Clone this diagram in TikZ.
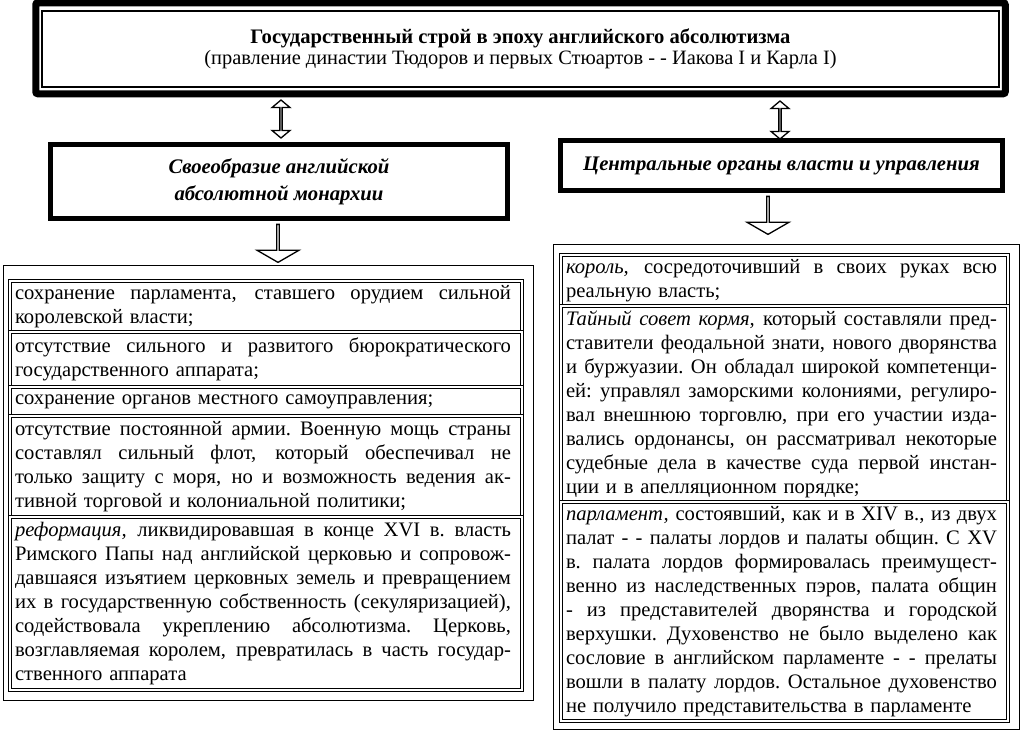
\documentclass[tikz,border=0pt]{standalone}
\usepackage{fontspec}
\setmainfont{Liberation Serif}
\usetikzlibrary{positioning,shapes.arrows}
\newlength\colw
\newcommand\jline[1]{\noindent\hbox to\colw{\spaceskip=.25em plus 1fil\xspaceskip=\spaceskip #1}\par}
\newcommand\jend[1]{\noindent\hbox{#1}\par}

\begin{document}
\begin{tikzpicture}[x=1pt, y=-1pt,
    frame/.style={draw, line width=5pt, outer sep=0pt, align=center,
        font=\fontsize{20.7}{27}\selectfont\bfseries\itshape},
    item/.style={draw, double, double distance=1.4pt, line width=1pt, outer sep=0pt,
        inner xsep=5pt, inner ysep=2pt, text width=#1,
        execute at begin node={\setlength\colw{#1}\addtolength\colw{-6pt}},
        font=\fontsize{20.6}{24}\selectfont},
    updown/.style={double arrow, draw, line width=1.3pt, rotate=90, inner sep=0pt,
        minimum height=38pt, minimum width=18pt,
        double arrow head extend=4.5pt, double arrow tip angle=100},
    down/.style={single arrow, draw, line width=1.3pt, rotate=-90, inner sep=0pt,
        minimum height=38pt, minimum width=42pt,
        single arrow head extend=10pt, single arrow tip angle=120}]
    \useasboundingbox (0,0) rectangle (1024,734);

    % title
    \node[draw, line width=1.5pt, minimum width=957pt, minimum height=76pt, align=center,
        font=\fontsize{20.4}{20.5}\selectfont] (title) at (520.5,49)
        {{\bfseries\fontsize{20.6}{20.5}\selectfont Государственный строй в эпоху английского абсолютизма}\\
         (правление династии Тюдоров и первых Стюартов - - Иакова I и Карла I)};
    \draw[line width=7pt, rounded corners=2pt] ([shift={(-5.5,-7.5)}]title.north west)
        rectangle ([shift={(5.5,6)}]title.south east);

    % headers
    \node[frame, minimum width=457pt, minimum height=74pt] (lhead) at (279,181.5)
        {Своеобразие английской\\абсолютной монархии};
    \node[frame, minimum width=442pt, minimum height=50pt] (rhead) at (781.5,165.5)
        {Центральные органы власти и управления};

    \node[updown] (lboth) at (281,119) {};
    \node[updown] (rboth) at (780,120) {};
    \node[down] (ldown) at (278,243) {};
    \node[down] (rdown) at (768,215) {};

    % left column
    \node[item=502pt, minimum height=51pt, anchor=north] (l1) at (266,281) {%
        \jline{сохранение парламента, ставшего орудием сильной}
        \jend{королевской власти;}};
    \node[item=502pt, minimum height=55pt, below=0pt of l1] (l2) {%
        \jline{отсутствие сильного и развитого бюрократического}
        \jend{государственного аппарата;}};
    \node[item=502pt, minimum height=29pt, below=0pt of l2] (l3) {%
        \jend{сохранение органов местного самоуправления;}};
    \node[item=502pt, minimum height=101pt, below=0pt of l3] (l4) {%
        \jline{отсутствие постоянной армии. Военную мощь страны}
        \jline{составлял сильный флот, который обеспечивал не}
        \jline{только защиту с моря, но и возможность ведения ак-}
        \jend{тивной торговой и колониальной политики;}};
    \node[item=502pt, minimum height=173pt, below=0pt of l4] (l5) {%
        \jline{\textit{реформация,} ликвидировавшая в конце XVI в. власть}
        \jline{Римского Папы над английской церковью и сопровож-}
        \jline{давшаяся изъятием церковных земель и превращением}
        \jline{их в государственную собственность (секуляризацией),}
        \jline{содействовала укреплению абсолютизма. Церковь,}
        \jline{возглавляемая королем, превратилась в часть государ-}
        \jend{ственного аппарата}};
    \draw[line width=1pt] ([shift={(-7,-16)}]l1.north west) rectangle ([shift={(11,10)}]l5.south east);

    % right column
    \node[item=437pt, minimum height=51pt, anchor=north] (r1) at (784.5,255) {%
        \jline{\textit{король,} сосредоточивший в своих руках всю}
        \jend{реальную власть;}};
    \node[item=437pt, minimum height=196pt, below=0pt of r1] (r2) {%
        \jline{\textit{Тайный совет кормя,} который составляли пред-}
        \jline{ставители феодальной знати, нового дворянства}
        \jline{и буржуазии. Он обладал широкой компетенци-}
        \jline{ей: управлял заморскими колониями, регулиро-}
        \jline{вал внешнюю торговлю, при его участии изда-}
        \jline{вались ордонансы, он рассматривал некоторые}
        \jline{судебные дела в качестве суда первой инстан-}
        \jend{ции и в апелляционном порядке;}};
    \node[item=437pt, minimum height=219pt, below=0pt of r2] (r3) {%
        \jline{\textit{парламент,} состоявший, как и в XIV в., из двух}
        \jline{палат - - палаты лордов и палаты общин. С XV}
        \jline{в. палата лордов формировалась преимущест-}
        \jline{венно из наследственных пэров, палата общин}
        \jline{- из представителей дворянства и городской}
        \jline{верхушки. Духовенство не было выделено как}
        \jline{сословие в английском парламенте - - прелаты}
        \jline{вошли в палату лордов. Остальное духовенство}
        \jend{не получило представительства в парламенте}};
    \draw[line width=1pt] ([shift={(-8,-11)}]r1.north west) rectangle ([shift={(11,8)}]r3.south east);
\end{tikzpicture}
\end{document}
